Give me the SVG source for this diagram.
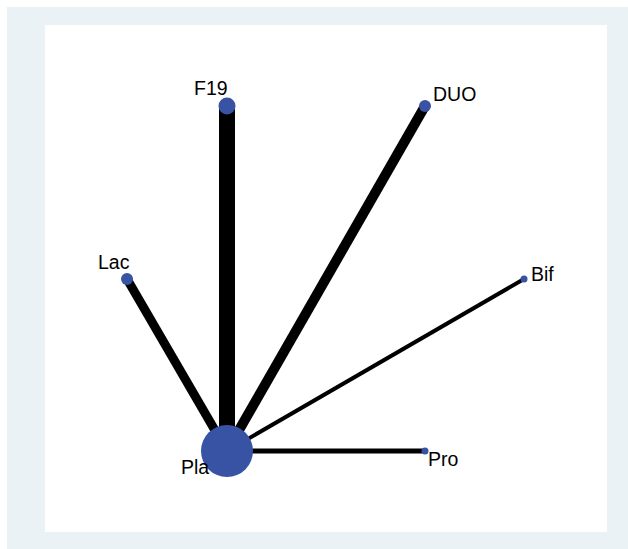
<svg xmlns="http://www.w3.org/2000/svg" width="628" height="549" viewBox="0 0 628 549">
<style>
.lbl{font-family:"Liberation Sans",Arial,sans-serif;font-size:19.5px;fill:#000}
.node{fill:#3953a4}
.edge{stroke:#000;stroke-linecap:butt;fill:none}
</style>
<rect x="7" y="7" width="621" height="542" fill="#eaf2f5"/>
<rect x="45" y="25" width="562" height="507" fill="#fff"/>
<g id="edges">
<line class="edge" x1="227" y1="451" x2="227" y2="106" stroke-width="16"/>
<line class="edge" x1="227" y1="451" x2="425" y2="106" stroke-width="10"/>
<line class="edge" x1="227" y1="451" x2="127" y2="279" stroke-width="9"/>
<line class="edge" x1="227" y1="451" x2="524" y2="279" stroke-width="4"/>
<line class="edge" x1="227" y1="451" x2="425" y2="451" stroke-width="5"/>
</g>
<g id="Pla"><circle class="node" cx="227" cy="451" r="26"/><text class="lbl" x="181" y="474">Pla</text></g>
<g id="F19"><circle class="node" cx="227" cy="106" r="8.5"/><text class="lbl" x="194" y="95">F19</text></g>
<g id="DUO"><circle class="node" cx="425" cy="106" r="6"/><text class="lbl" x="433" y="101">DUO</text></g>
<g id="Lac"><circle class="node" cx="127" cy="279" r="6"/><text class="lbl" x="98" y="269">Lac</text></g>
<g id="Bif"><circle class="node" cx="524" cy="279" r="3.5"/><text class="lbl" x="531" y="281">Bif</text></g>
<g id="Pro"><circle class="node" cx="425" cy="451" r="3.5"/><text class="lbl" x="428" y="466">Pro</text></g>
</svg>
